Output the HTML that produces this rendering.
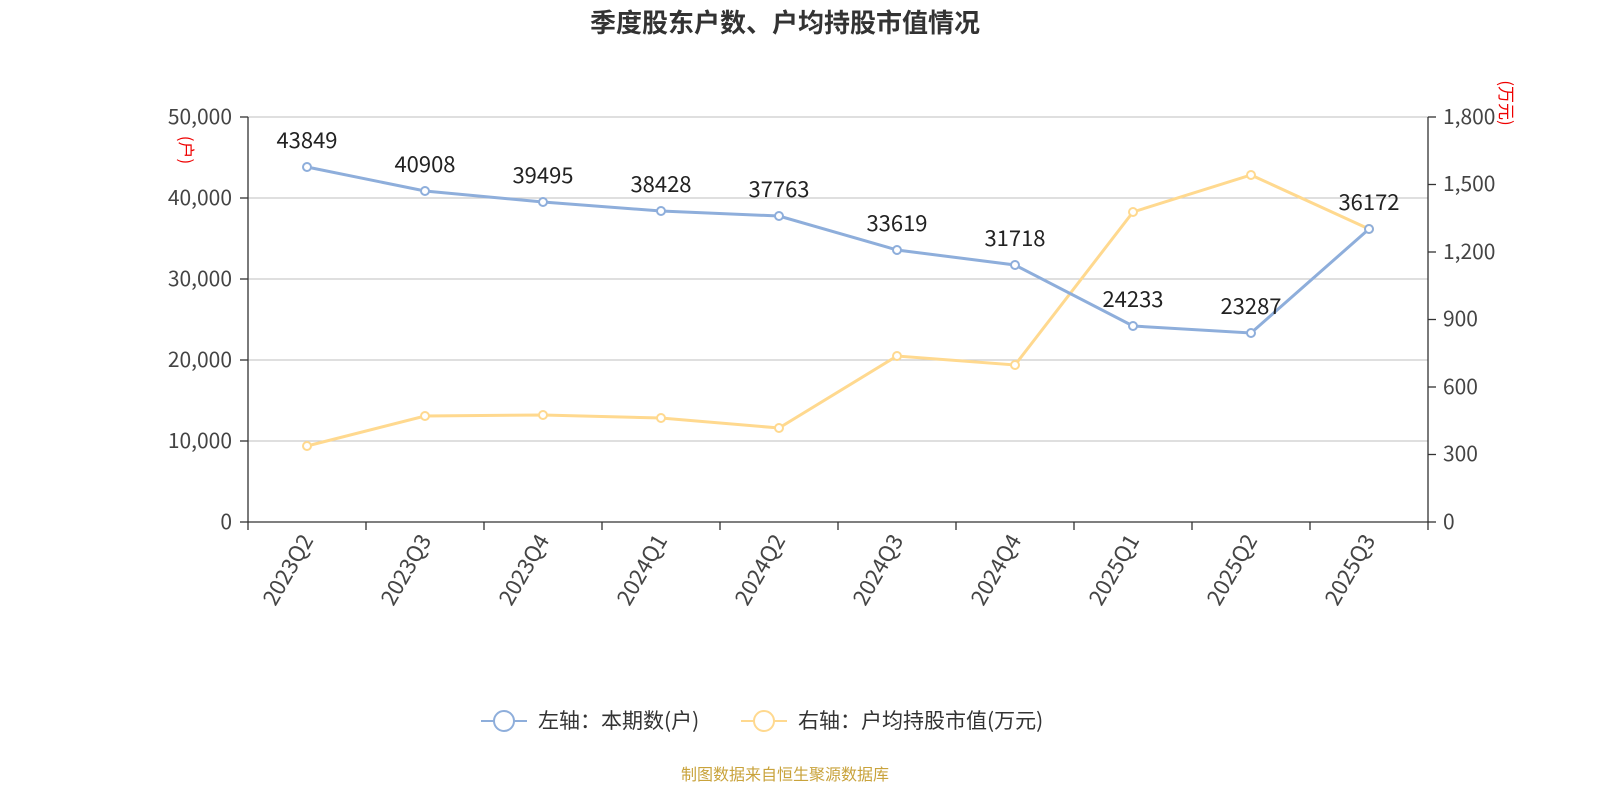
<!DOCTYPE html>
<html><head><meta charset="utf-8"><style>
body{margin:0;background:#fff;width:1600px;height:800px;overflow:hidden}
svg text{font-family:"Noto Sans CJK SC","Liberation Sans",sans-serif}
</style></head><body>
<svg width="1600" height="800" xmlns="http://www.w3.org/2000/svg">
<text x="785" y="32" text-anchor="middle" font-size="26" font-weight="bold" fill="#333">季度股东户数、户均持股市值情况</text>
<g stroke="#ccc" stroke-width="1.3">
<line x1="248" y1="117" x2="1428" y2="117"/><line x1="248" y1="198" x2="1428" y2="198"/>
<line x1="248" y1="279" x2="1428" y2="279"/><line x1="248" y1="360" x2="1428" y2="360"/>
<line x1="248" y1="441" x2="1428" y2="441"/>
</g>
<g stroke="#333" stroke-width="1.3">
<line x1="248" y1="117" x2="248" y2="522"/><line x1="1428" y1="117" x2="1428" y2="522"/>
<line x1="248" y1="522" x2="1428" y2="522"/>
<line x1="240" y1="117" x2="248" y2="117"/><line x1="240" y1="198" x2="248" y2="198"/><line x1="240" y1="279" x2="248" y2="279"/><line x1="240" y1="360" x2="248" y2="360"/><line x1="240" y1="441" x2="248" y2="441"/><line x1="240" y1="522" x2="248" y2="522"/>
<line x1="1428" y1="117" x2="1436" y2="117"/><line x1="1428" y1="184.5" x2="1436" y2="184.5"/><line x1="1428" y1="252" x2="1436" y2="252"/><line x1="1428" y1="319.5" x2="1436" y2="319.5"/><line x1="1428" y1="387" x2="1436" y2="387"/><line x1="1428" y1="454.5" x2="1436" y2="454.5"/><line x1="1428" y1="522" x2="1436" y2="522"/>
<line x1="248" y1="522" x2="248" y2="530"/><line x1="366" y1="522" x2="366" y2="530"/><line x1="484" y1="522" x2="484" y2="530"/><line x1="602" y1="522" x2="602" y2="530"/><line x1="720" y1="522" x2="720" y2="530"/><line x1="838" y1="522" x2="838" y2="530"/><line x1="956" y1="522" x2="956" y2="530"/><line x1="1074" y1="522" x2="1074" y2="530"/><line x1="1192" y1="522" x2="1192" y2="530"/><line x1="1310" y1="522" x2="1310" y2="530"/><line x1="1428" y1="522" x2="1428" y2="530"/>
</g>
<g font-size="21" fill="#444" text-anchor="end">
<text x="232" y="124">50,000</text><text x="232" y="205">40,000</text><text x="232" y="286">30,000</text><text x="232" y="367">20,000</text><text x="232" y="448">10,000</text><text x="232" y="529">0</text>
</g>
<g font-size="21" fill="#444">
<text x="1443" y="124">1,800</text><text x="1443" y="191">1,500</text><text x="1443" y="259">1,200</text><text x="1443" y="326">900</text><text x="1443" y="394">600</text><text x="1443" y="461">300</text><text x="1443" y="529">0</text>
</g>
<text transform="translate(180,150) rotate(90)" font-size="17" fill="#e00" text-anchor="middle">(户)</text>
<text transform="translate(1500,103) rotate(90)" font-size="17" fill="#e00" text-anchor="middle">(万元)</text>
<g font-size="22" fill="#444" text-anchor="end">
<text transform="translate(314,540) rotate(-60)">2023Q2</text>
<text transform="translate(432,540) rotate(-60)">2023Q3</text>
<text transform="translate(550,540) rotate(-60)">2023Q4</text>
<text transform="translate(668,540) rotate(-60)">2024Q1</text>
<text transform="translate(786,540) rotate(-60)">2024Q2</text>
<text transform="translate(904,540) rotate(-60)">2024Q3</text>
<text transform="translate(1022,540) rotate(-60)">2024Q4</text>
<text transform="translate(1140,540) rotate(-60)">2025Q1</text>
<text transform="translate(1258,540) rotate(-60)">2025Q2</text>
<text transform="translate(1376,540) rotate(-60)">2025Q3</text>
</g>
<polyline fill="none" stroke="#ffd98f" stroke-width="3" points="307,446 425,416 543,415 661,418 779,428 897,356 1015,365 1133,212 1251,175 1369,229"/>
<g fill="#fff" stroke="#ffd98f" stroke-width="2">
<circle cx="307" cy="446" r="4"/><circle cx="425" cy="416" r="4"/><circle cx="543" cy="415" r="4"/><circle cx="661" cy="418" r="4"/><circle cx="779" cy="428" r="4"/><circle cx="897" cy="356" r="4"/><circle cx="1015" cy="365" r="4"/><circle cx="1133" cy="212" r="4"/><circle cx="1251" cy="175" r="4"/><circle cx="1369" cy="229" r="4"/>
</g>
<polyline fill="none" stroke="#8eaedb" stroke-width="3" points="307,167 425,191 543,202 661,211 779,216 897,250 1015,265 1133,326 1251,333 1369,229"/>
<g fill="#fff" stroke="#8eaedb" stroke-width="2">
<circle cx="307" cy="167" r="4"/><circle cx="425" cy="191" r="4"/><circle cx="543" cy="202" r="4"/><circle cx="661" cy="211" r="4"/><circle cx="779" cy="216" r="4"/><circle cx="897" cy="250" r="4"/><circle cx="1015" cy="265" r="4"/><circle cx="1133" cy="326" r="4"/><circle cx="1251" cy="333" r="4"/><circle cx="1369" cy="229" r="4"/>
</g>
<g font-size="22" fill="#222" text-anchor="middle">
<text x="307" y="148">43849</text><text x="425" y="172">40908</text><text x="543" y="183">39495</text><text x="661" y="192">38428</text><text x="779" y="197">37763</text><text x="897" y="231">33619</text><text x="1015" y="246">31718</text><text x="1133" y="307">24233</text><text x="1251" y="314">23287</text><text x="1369" y="210">36172</text>
</g>
<line x1="481" y1="721" x2="527" y2="721" stroke="#8eaedb" stroke-width="2"/>
<circle cx="504" cy="721" r="10" fill="#fff" stroke="#8eaedb" stroke-width="2"/>
<text x="538" y="728" font-size="21" fill="#333">左轴：本期数(户)</text>
<line x1="741" y1="721" x2="787" y2="721" stroke="#ffd98f" stroke-width="2"/>
<circle cx="764" cy="721" r="10" fill="#fff" stroke="#ffd98f" stroke-width="2"/>
<text x="798" y="728" font-size="21" fill="#333">右轴：户均持股市值(万元)</text>
<text x="785" y="780" font-size="16" fill="#c9a33c" text-anchor="middle">制图数据来自恒生聚源数据库</text>
</svg>
</body></html>
